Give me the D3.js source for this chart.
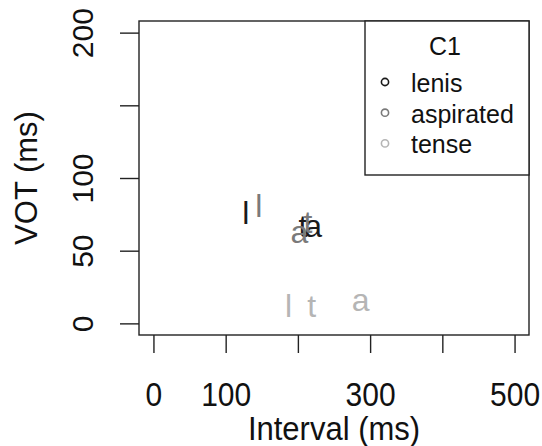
<!DOCTYPE html>
<html>
<head>
<meta charset="utf-8">
<script src="https://cdn.jsdelivr.net/npm/d3@7"></script>
<style>
  html, body { margin: 0; padding: 0; background: #fff; }
  svg { display: block; font-family: "Liberation Sans", Arial, Helvetica, sans-serif; }
</style>
</head>
<body>
<svg id="chart" width="542" height="446"></svg>
<script>
// ---- data ----
const c1Levels = ["lenis", "aspirated", "tense"];
const c1Colors = ["#1a1a1a", "#7a7a7a", "#b5b5b5"];
const pointLabels = ["l", "t", "a"];
const intervalLenis = [128, 207, 221];
const votLenis = [76, 67, 67];
const intervalAspirated = [146, 214, 202];
const votAspirated = [81, 70, 63];
const intervalTense = [187, 219, 287];
const votTense = [12, 12, 16];
const xTicks = [0, 100, 200, 300, 400, 500];
const xTickLabels = ["0", "100", "", "300", "", "500"];
const yTicks = [0, 50, 100, 150, 200];
const yTickLabels = ["0", "50", "100", "", "200"];

// ---- layout ----
const svg = d3.select("#chart");
const box = { left: 139, right: 529, top: 21, bottom: 335 };
const x = d3.scaleLinear().domain([-20, 520]).range([box.left, box.right]);
const y = d3.scaleLinear().domain([-8, 208]).range([box.bottom, box.top]);
const axisFont = 30, labFont = 31, legFont = 25, ptFont = 32;

const series = [
  { name: c1Levels[0], color: c1Colors[0], xs: intervalLenis, ys: votLenis },
  { name: c1Levels[1], color: c1Colors[1], xs: intervalAspirated, ys: votAspirated },
  { name: c1Levels[2], color: c1Colors[2], xs: intervalTense, ys: votTense }
];

// plot box
svg.append("rect")
  .attr("x", box.left).attr("y", box.top)
  .attr("width", box.right - box.left).attr("height", box.bottom - box.top)
  .attr("fill", "none").attr("stroke", "#222").attr("stroke-width", 1.4);

// x axis
const xAxis = d3.axisBottom(x).tickValues(xTicks)
  .tickFormat((d, i) => xTickLabels[i]).tickSize(18).tickSizeOuter(0);
const gx = svg.append("g").attr("transform", `translate(0,${box.bottom})`).call(xAxis);
gx.select(".domain").remove();
gx.selectAll(".tick line").attr("stroke", "#222").attr("stroke-width", 1.4);
gx.selectAll(".tick text").attr("font-size", axisFont).attr("fill", "#111")
  .attr("font-family", "Liberation Sans, Arial, sans-serif")
  .attr("y", 71).attr("dy", 0)
  .attr("transform", "translate(0,71) scale(1,1.08) translate(0,-71)");

// y axis
const yAxis = d3.axisLeft(y).tickValues(yTicks)
  .tickFormat((d, i) => yTickLabels[i]).tickSize(19).tickSizeOuter(0);
const gy = svg.append("g").attr("transform", `translate(${box.left},0)`).call(yAxis);
gy.select(".domain").remove();
gy.selectAll(".tick line").attr("stroke", "#222").attr("stroke-width", 1.4);
gy.selectAll(".tick text").attr("font-size", axisFont).attr("fill", "#111")
  .attr("font-family", "Liberation Sans, Arial, sans-serif")
  .attr("x", null).attr("dy", null)
  .attr("text-anchor", "middle")
  .attr("transform", `translate(${93 - box.left},0) rotate(-90)`);

// axis titles
svg.append("text")
  .attr("transform", `translate(${(box.left + box.right) / 2},440) scale(1,1.06)`)
  .attr("text-anchor", "middle").attr("font-size", labFont).attr("fill", "#111")
  .text("Interval (ms)");
svg.append("text")
  .attr("transform", `translate(37,${(box.top + box.bottom) / 2}) rotate(-90)`)
  .attr("text-anchor", "middle").attr("font-size", labFont).attr("fill", "#111")
  .text("VOT (ms)");

// points as text labels
series.forEach(s => {
  svg.append("g").selectAll("text")
    .data(s.xs.map((v, i) => ({ x: v, y: s.ys[i], lab: pointLabels[i] })))
    .join("text")
    .attr("x", d => x(d.x))
    .attr("y", d => y(d.y))
    .attr("dy", "0.35em")
    .attr("text-anchor", "middle")
    .attr("font-size", ptFont)
    .attr("fill", s.color)
    .text(d => d.lab);
});

// legend
const leg = { left: 365, right: box.right, top: box.top, bottom: 175 };
svg.append("rect")
  .attr("x", leg.left).attr("y", leg.top)
  .attr("width", leg.right - leg.left).attr("height", leg.bottom - leg.top)
  .attr("fill", "#fff").attr("stroke", "#222").attr("stroke-width", 1.4);
svg.append("text")
  .attr("x", (leg.left + leg.right) / 2 - 2).attr("y", 55)
  .attr("text-anchor", "middle").attr("font-size", legFont).attr("fill", "#111")
  .text("C1");
const legRows = svg.append("g").selectAll("g")
  .data(series).join("g")
  .attr("transform", (d, i) => `translate(0,${82 + i * 30.7})`);
legRows.append("circle")
  .attr("cx", 385).attr("cy", 0).attr("r", 3.6)
  .attr("fill", "none").attr("stroke", d => d.color).attr("stroke-width", 1.6);
legRows.append("text")
  .attr("x", 411).attr("y", 10)
  .attr("font-size", legFont).attr("fill", "#111")
  .text(d => d.name);
</script>
</body>
</html>
